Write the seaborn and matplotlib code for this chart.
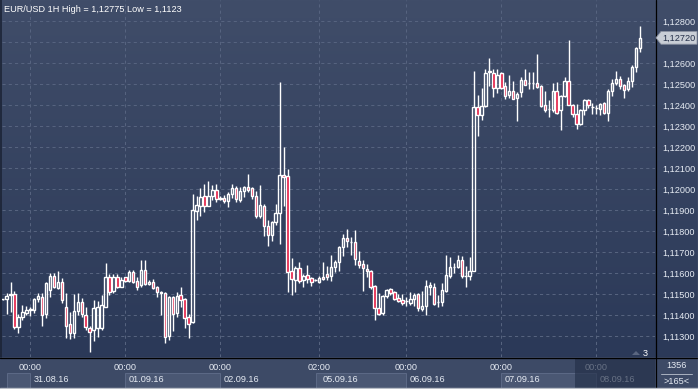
import numpy as np
import matplotlib
matplotlib.use("Agg")
import matplotlib.pyplot as plt
import matplotlib.transforms as mtransforms
from matplotlib.colors import LinearSegmentedColormap
from matplotlib.patches import Rectangle, Polygon
from matplotlib.lines import Line2D
import seaborn as sns

# ---------------- data (EUR/USD 1H candles) ----------------
opens = [
    1.11475, 1.11478, 1.11495, 1.11502, 1.11344, 1.11389, 1.11411, 1.11424, 1.11424, 1.11475,
    1.11487, 1.11403, 1.11520, 1.11586, 1.11530, 1.11559, 1.11440, 1.11357, 1.11313, 1.11421,
    1.11462, 1.11398, 1.11338, 1.11329, 1.11337, 1.11337, 1.11440, 1.11583, 1.11516, 1.11583,
    1.11535, 1.11579, 1.11563, 1.11606, 1.11563, 1.11543, 1.11614, 1.11548, 1.11559, 1.11532,
    1.11511, 1.11503, 1.11300, 1.11484, 1.11410, 1.11497, 1.11476, 1.11389, 1.11365, 1.11894,
    1.11921, 1.11968, 1.11921, 1.11968, 1.11997, 1.11956, 1.11957, 1.11941, 1.11978, 1.12005,
    1.11948, 1.11992, 1.12008, 1.12005, 1.11965, 1.11873, 1.11921, 1.11825, 1.11783, 1.11841,
    1.11886, 1.12068, 1.12063, 1.11610, 1.11568, 1.11624, 1.11567, 1.11590, 1.11576, 1.11567,
    1.11556, 1.11583, 1.11597, 1.11584, 1.11630, 1.11651, 1.11724, 1.11768, 1.11748, 1.11748,
    1.11659, 1.11644, 1.11619, 1.11611, 1.11538, 1.11433, 1.11410, 1.11489, 1.11524, 1.11510,
    1.11481, 1.11473, 1.11465, 1.11457, 1.11476, 1.11500, 1.11430, 1.11441, 1.11532, 1.11533,
    1.11462, 1.11462, 1.11513, 1.11584, 1.11627, 1.11629, 1.11663, 1.11586, 1.11584, 1.11611,
    1.12392, 1.12354, 1.12395, 1.12557, 1.12554, 1.12481, 1.12554, 1.12489, 1.12446, 1.12468,
    1.12433, 1.12462, 1.12517, 1.12505, 1.12505, 1.12505, 1.12489, 1.12398, 1.12379, 1.12375,
    1.12468, 1.12375, 1.12443, 1.12516, 1.12402, 1.12359, 1.12311, 1.12375, 1.12422, 1.12390,
    1.12386, 1.12383, 1.12411, 1.12362, 1.12468, 1.12505, 1.12525, 1.12494, 1.12475, 1.12513,
    1.12581, 1.12673,
]
highs = [
    1.11478, 1.11506, 1.11556, 1.11514, 1.11403, 1.11448, 1.11443, 1.11440, 1.11479, 1.11506,
    1.11503, 1.11557, 1.11598, 1.11598, 1.11611, 1.11575, 1.11503, 1.11416, 1.11498, 1.11506,
    1.11483, 1.11440, 1.11348, 1.11471, 1.11468, 1.11495, 1.11646, 1.11595, 1.11595, 1.11595,
    1.11583, 1.11583, 1.11614, 1.11614, 1.11583, 1.11662, 1.11662, 1.11567, 1.11570, 1.11538,
    1.11516, 1.11511, 1.11492, 1.11492, 1.11508, 1.11532, 1.11479, 1.11405, 1.11976, 1.11968,
    1.12005, 1.12024, 1.12040, 1.12021, 1.12024, 1.11965, 1.11973, 1.11987, 1.12024, 1.12013,
    1.12008, 1.12013, 1.12071, 1.12011, 1.11992, 1.12021, 1.11929, 1.11854, 1.11849, 1.11929,
    1.12511, 1.12198, 1.12095, 1.11671, 1.11635, 1.11654, 1.11595, 1.11638, 1.11581, 1.11570,
    1.11587, 1.11651, 1.11632, 1.11684, 1.11663, 1.11729, 1.11787, 1.11811, 1.11770, 1.11806,
    1.11706, 1.11660, 1.11644, 1.11616, 1.11541, 1.11505, 1.11497, 1.11525, 1.11529, 1.11513,
    1.11500, 1.11500, 1.11484, 1.11510, 1.11505, 1.11505, 1.11513, 1.11568, 1.11557, 1.11552,
    1.11494, 1.11552, 1.11687, 1.11676, 1.11648, 1.11684, 1.11683, 1.11632, 1.11676, 1.12563,
    1.12449, 1.12481, 1.12573, 1.12625, 1.12573, 1.12573, 1.12557, 1.12510, 1.12545, 1.12513,
    1.12462, 1.12533, 1.12570, 1.12557, 1.12557, 1.12644, 1.12494, 1.12465, 1.12422, 1.12506,
    1.12510, 1.12446, 1.12533, 1.12708, 1.12406, 1.12406, 1.12379, 1.12430, 1.12430, 1.12411,
    1.12398, 1.12411, 1.12414, 1.12475, 1.12525, 1.12560, 1.12537, 1.12502, 1.12533, 1.12589,
    1.12676, 1.12775,
]
lows = [
    1.11472, 1.11403, 1.11413, 1.11332, 1.11313, 1.11376, 1.11400, 1.11395, 1.11408, 1.11463,
    1.11348, 1.11387, 1.11487, 1.11527, 1.11522, 1.11459, 1.11289, 1.11284, 1.11292, 1.11400,
    1.11392, 1.11329, 1.11225, 1.11278, 1.11294, 1.11329, 1.11437, 1.11495, 1.11506, 1.11527,
    1.11532, 1.11559, 1.11559, 1.11554, 1.11519, 1.11535, 1.11543, 1.11543, 1.11522, 1.11487,
    1.11400, 1.11268, 1.11281, 1.11325, 1.11389, 1.11437, 1.11337, 1.11289, 1.11362, 1.11854,
    1.11873, 1.11892, 1.11917, 1.11949, 1.11937, 1.11948, 1.11933, 1.11913, 1.11956, 1.11940,
    1.11937, 1.11960, 1.11987, 1.11952, 1.11860, 1.11860, 1.11775, 1.11730, 1.11754, 1.11829,
    1.11738, 1.11921, 1.11508, 1.11495, 1.11508, 1.11552, 1.11532, 1.11552, 1.11537, 1.11564,
    1.11552, 1.11568, 1.11568, 1.11560, 1.11603, 1.11608, 1.11679, 1.11722, 1.11684, 1.11640,
    1.11624, 1.11516, 1.11579, 1.11525, 1.11378, 1.11402, 1.11398, 1.11481, 1.11494, 1.11473,
    1.11462, 1.11449, 1.11441, 1.11449, 1.11441, 1.11421, 1.11417, 1.11398, 1.11494, 1.11449,
    1.11437, 1.11441, 1.11510, 1.11576, 1.11600, 1.11624, 1.11576, 1.11532, 1.11568, 1.11608,
    1.12251, 1.12327, 1.12390, 1.12490, 1.12438, 1.12455, 1.12478, 1.12430, 1.12435, 1.12427,
    1.12322, 1.12438, 1.12494, 1.12478, 1.12475, 1.12483, 1.12390, 1.12367, 1.12343, 1.12367,
    1.12359, 1.12279, 1.12438, 1.12398, 1.12343, 1.12287, 1.12303, 1.12351, 1.12386, 1.12359,
    1.12359, 1.12354, 1.12357, 1.12322, 1.12441, 1.12494, 1.12478, 1.12433, 1.12465, 1.12486,
    1.12557, 1.12652,
]
closes = [
    1.11476, 1.11490, 1.11500, 1.11344, 1.11392, 1.11413, 1.11424, 1.11429, 1.11475, 1.11490,
    1.11400, 1.11551, 1.11586, 1.11535, 1.11559, 1.11471, 1.11348, 1.11313, 1.11419, 1.11463,
    1.11405, 1.11341, 1.11319, 1.11432, 1.11437, 1.11448, 1.11579, 1.11511, 1.11583, 1.11535,
    1.11567, 1.11563, 1.11606, 1.11559, 1.11535, 1.11614, 1.11548, 1.11557, 1.11527, 1.11511,
    1.11503, 1.11294, 1.11484, 1.11405, 1.11492, 1.11471, 1.11384, 1.11357, 1.11900, 1.11924,
    1.11963, 1.11917, 1.11968, 1.11997, 1.11952, 1.11954, 1.11941, 1.11978, 1.12005, 1.11952,
    1.11992, 1.12008, 1.11995, 1.11968, 1.11870, 1.11924, 1.11822, 1.11783, 1.11841, 1.11886,
    1.12068, 1.12056, 1.11603, 1.11571, 1.11622, 1.11560, 1.11587, 1.11571, 1.11559, 1.11566,
    1.11578, 1.11571, 1.11581, 1.11629, 1.11654, 1.11724, 1.11767, 1.11751, 1.11749, 1.11667,
    1.11640, 1.11624, 1.11608, 1.11532, 1.11433, 1.11405, 1.11489, 1.11521, 1.11505, 1.11476,
    1.11465, 1.11457, 1.11466, 1.11476, 1.11497, 1.11433, 1.11441, 1.11537, 1.11541, 1.11452,
    1.11464, 1.11517, 1.11592, 1.11629, 1.11630, 1.11663, 1.11584, 1.11587, 1.11611, 1.12392,
    1.12351, 1.12395, 1.12554, 1.12560, 1.12481, 1.12544, 1.12481, 1.12443, 1.12465, 1.12430,
    1.12454, 1.12517, 1.12497, 1.12503, 1.12504, 1.12486, 1.12395, 1.12378, 1.12381, 1.12468,
    1.12363, 1.12441, 1.12513, 1.12402, 1.12359, 1.12311, 1.12375, 1.12422, 1.12398, 1.12389,
    1.12387, 1.12406, 1.12362, 1.12468, 1.12505, 1.12525, 1.12489, 1.12473, 1.12513, 1.12581,
    1.12673, 1.12720,
]

price_levels = [1.113, 1.114, 1.115, 1.116, 1.117, 1.118, 1.119, 1.120,
                1.121, 1.122, 1.123, 1.124, 1.125, 1.126, 1.127, 1.128]
tick_idx = [7, 31, 55, 80, 102, 126, 150]
tick_times = ["00:00", "00:00", "00:00", "02:00", "00:00", "00:00", "00:00"]
tick_dates = ["31.08.16", "01.09.16", "02.09.16", "05.09.16", "06.09.16", "07.09.16", "08.09.16"]
date_boxes = [(1.1, 7), (31, 55), (79.2, 102), (126, 150)]
title = "EUR/USD 1H High = 1,12775 Low = 1,1123"

# ---------------- style ----------------
sns.set_theme(style="dark")
plt.rcParams['font.family'] = ['Liberation Sans', 'DejaVu Sans']

W, H = 698, 389
fig = plt.figure(figsize=(W / 100, H / 100), dpi=100)
fig.patch.set_facecolor('#3d4a66')


def fx(p):
    return p / W


def fy(p):
    return 1 - p / H


PB = 357  # plot bottom (px)
bg = fig.add_axes([0, fy(PB), 1, PB / H], zorder=-10)
bg.imshow(np.linspace(0, 1, 256).reshape(-1, 1), aspect='auto',
          cmap=LinearSegmentedColormap.from_list('g', ['#404d69', '#2b3958']),
          extent=(0, 1, 0, 1), interpolation='bilinear')
bg.set_axis_off()

ax = fig.add_axes([fx(2), fy(PB), fx(655) - fx(2), PB / H])
ax.patch.set_alpha(0)
for s in ax.spines.values():
    s.set_visible(False)

ax.set_xlim(-0.15, 164.83)
ax.set_ylim(1.112, 1.129)

# grid
ax.set_xticks(tick_idx)
ax.set_yticks(price_levels)
ax.grid(True, color='#56637f', linestyle=(0, (3, 3)), linewidth=0.75)
ax.set_axisbelow(True)
ax.tick_params(axis='x', length=0, labelbottom=False)
ax.yaxis.tick_right()
last_price = closes[-1]
# the level hidden behind the last-price marker is left blank
ylabels = ["" if abs(v - last_price) < 0.0004 else f"{v:.5f}".replace('.', ',')
           for v in price_levels]
ax.set_yticklabels(ylabels)
ax.tick_params(axis='y', length=0, pad=5, labelsize=6.6, labelcolor='#e6ebf3',
               right=True, labelright=True, left=False, labelleft=False)

# candles
o = np.array(opens); h = np.array(highs); l = np.array(lows); c = np.array(closes)
x = np.arange(len(o))
top = np.maximum(o, c)
bot = np.minimum(o, c)
hgt = np.maximum(top - bot, 0.00002)
ax.vlines(x, top, h, color='white', linewidth=1.0, zorder=3)
ax.vlines(x, l, bot, color='white', linewidth=1.0, zorder=3)
faces = ['#e3143d' if cc < oo else 'none' for oo, cc in zip(o, c)]
ax.bar(x, hgt, bottom=bot, width=0.62, color=faces, edgecolor='white',
       linewidth=1.0, zorder=4)

# bottom time axis
xt = ax.get_xaxis_transform()
date_tr = mtransforms.offset_copy(xt, x=3, y=0, units='dots')
for x0, x1 in date_boxes:
    ax.add_patch(Rectangle((x0, -16 / PB), x1 - x0, -15 / PB, transform=xt,
                           clip_on=False, facecolor='#4a5773', edgecolor='#5c6986',
                           linewidth=0.7, zorder=0.5))
for idx, t, d in zip(tick_idx, tick_times, tick_dates):
    ax.text(idx, -10 / PB, t, transform=xt, ha='center', va='center',
            fontsize=6.6, color='#e6ebf3', clip_on=False)
    ax.text(idx, -23 / PB, d, transform=date_tr, ha='left', va='center',
            fontsize=6.6, color='#e6ebf3', clip_on=False)

# title
fig.text(fx(4), fy(9), title, color='white', fontsize=6.6, va='center', ha='left')

# dark overlay on last day in time axis
fig.add_artist(Rectangle((fx(575), fy(388)), fx(655) - fx(575), (388 - 359) / H,
                         transform=fig.transFigure, facecolor='#232f48', alpha=0.65,
                         edgecolor='none', zorder=2))

# separators and borders
fig.add_artist(Line2D([fx(655.5)] * 2, [0, 1], color='black', lw=0.9, zorder=5))
fig.add_artist(Line2D([0, 1], [fy(357.5)] * 2, color='black', lw=0.9, zorder=5))
fig.add_artist(Line2D([fx(0.8)] * 2, [fy(357), 1], color='#1c2436', lw=1.2, zorder=5))
fig.add_artist(Line2D([0, 1], [fy(388.3)] * 2, color='#b9bec7', lw=1.0, zorder=5))
fig.add_artist(Line2D([fx(697.5)] * 2, [0, 1], color='#b9bec7', lw=0.8, zorder=5))

# last price marker
pts = [(656, 37.8), (661, 31.5), (697, 31.5), (697, 44.2), (661, 44.2)]
fig.add_artist(Polygon([(fx(px), fy(py)) for px, py in pts], closed=True,
                       transform=fig.transFigure, facecolor='#c9ced6',
                       edgecolor='#8d94a3', linewidth=0.6, zorder=6))
fig.text(fx(662), fy(38), f"{last_price:.5f}".replace('.', ','), ha='left', va='center',
         fontsize=6.6, color='#25304a', zorder=7)

# bar counter bottom right
fig.text(fx(677), fy(366), "1356", ha='center', va='center', fontsize=6.6, color='#e6ebf3')
fig.add_artist(Line2D([fx(661), fx(692)], [fy(373.5)] * 2, color='#aab2c0', lw=0.7, zorder=5))
fig.text(fx(677), fy(381), ">165<", ha='center', va='center', fontsize=6.6, color='#e6ebf3')

# "3" indicator
fig.add_artist(Polygon([(fx(632), fy(355)), (fx(636), fy(351)), (fx(640), fy(355))],
                       closed=True, transform=fig.transFigure, facecolor='#5a6680',
                       edgecolor='none', zorder=6))
fig.text(fx(645.5), fy(354), "3", ha='center', va='center', fontsize=6.6, color='white')

fig.savefig("out.png", dpi=100, facecolor=fig.get_facecolor())
